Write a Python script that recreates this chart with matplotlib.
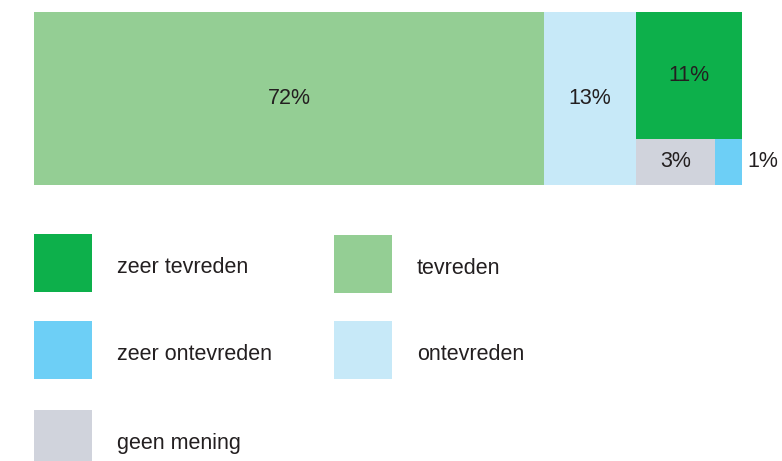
import matplotlib.pyplot as plt
from matplotlib.patches import Rectangle

plt.rcParams['font.family'] = ['Liberation Sans', 'DejaVu Sans']

# data
categories = ["zeer tevreden", "tevreden", "zeer ontevreden", "ontevreden", "geen mening"]
values = [11, 72, 1, 13, 3]
colors = ["#0db04b", "#94ce94", "#6dcff6", "#c7e9f8", "#d0d3dc"]
val = dict(zip(categories, values))
col = dict(zip(categories, colors))

TXT = "#231f20"
FS = 15.5

fig = plt.figure(figsize=(7.82, 4.61), dpi=100)

# treemap area
ax = fig.add_axes([34 / 782, 1 - 185 / 461, 708 / 782, 173 / 461])
total = sum(values)
ax.set_xlim(0, total)
ax.set_ylim(0, 1)
ax.axis("off")

def box(x, y, w, h, name, label_out=False):
    ax.add_patch(Rectangle((x, y), w, h, facecolor=col[name], edgecolor="none"))
    txt = f"{val[name]}%"
    if label_out:
        ax.text(x + w + 0.8, y + h / 2, txt, ha="left", va="center", fontsize=FS, color=TXT)
    else:
        ax.text(x + w / 2, y + h / 2, txt, ha="center", va="center", fontsize=FS, color=TXT)

x = 0
box(x, 0, val["tevreden"], 1, "tevreden")
x += val["tevreden"]
box(x, 0, val["ontevreden"], 1, "ontevreden")
x += val["ontevreden"]

# right column: zeer tevreden on top, geen mening + zeer ontevreden below
grp = val["zeer tevreden"] + val["geen mening"] + val["zeer ontevreden"]
h_bottom = (val["geen mening"] + val["zeer ontevreden"]) / grp
box(x, h_bottom, grp, 1 - h_bottom, "zeer tevreden")
bw = grp * val["geen mening"] / (val["geen mening"] + val["zeer ontevreden"])
box(x, 0, bw, h_bottom, "geen mening")
box(x + bw, 0, grp - bw, h_bottom, "zeer ontevreden", label_out=True)

# legend, in pixel coordinates
lg = fig.add_axes([0, 0, 1, 1])
lg.set_xlim(0, 782)
lg.set_ylim(461, 0)
lg.axis("off")
slots = {
    "zeer tevreden": (34, 234),
    "tevreden": (334, 235),
    "zeer ontevreden": (34, 321),
    "ontevreden": (334, 321),
    "geen mening": (34, 410),
}
for name, (lx, ly) in slots.items():
    lg.add_patch(Rectangle((lx, ly), 58, 58, facecolor=col[name], edgecolor="none"))
    lg.text(lx + 83, ly + 33, name, ha="left", va="center", fontsize=FS, color=TXT)

fig.savefig("out.png", dpi=100)
